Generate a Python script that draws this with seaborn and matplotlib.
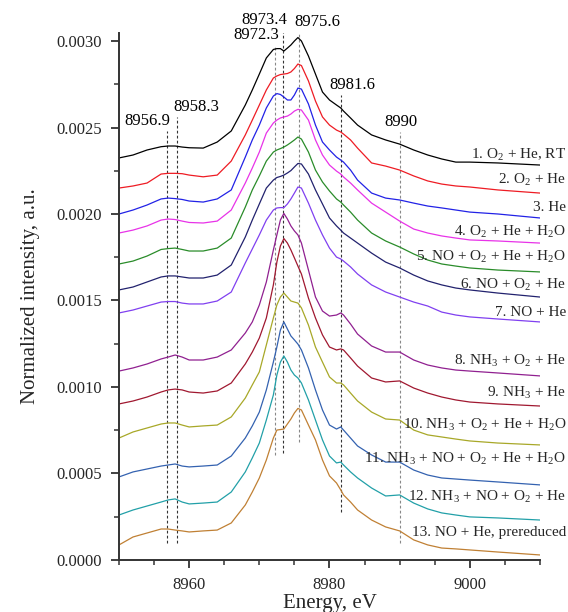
import matplotlib
matplotlib.use("Agg")
import matplotlib.pyplot as plt
from matplotlib.ticker import MultipleLocator, FormatStrFormatter
import numpy as np
import pandas as pd
import seaborn as sns

sns.set_theme(style="ticks")
plt.rcParams["font.family"] = ["Liberation Serif", "DejaVu Serif"]
plt.rcParams["mathtext.fontset"] = "custom"
plt.rcParams["mathtext.rm"] = "Liberation Serif"

# Photon energy grid, eV
energy = [8950, 8952, 8954, 8956, 8957, 8958, 8959, 8960, 8962, 8964, 8966,
          8968, 8969, 8970, 8971, 8972, 8972.5, 8973, 8973.5, 8974, 8974.5,
          8975, 8975.5, 8976, 8977, 8978, 8979, 8980, 8981, 8981.6, 8982,
          8983, 8984, 8986, 8988, 8990, 8992, 8994, 8996, 8998, 9000, 9004, 9010]

# Normalized intensity of each (offset) spectrum, in units of 1e-4
i01 = [23.24, 23.41, 23.70, 23.89, 23.93, 23.93, 23.87, 23.83, 23.81, 24.16, 24.80,
       26.30, 27.17, 28.09, 29.02, 29.51, 29.56, 29.56, 29.42, 29.59, 29.77,
       30.00, 30.20, 30.00, 29.13, 28.09, 27.05, 26.59, 26.30, 26.13, 25.95,
       25.55, 25.14, 24.57, 24.28, 24.04, 23.70, 23.41, 23.18, 23.00, 23.00, 22.95, 22.83]
i02 = [21.50, 21.62, 21.79, 22.31, 22.35, 22.35, 22.33, 22.25, 22.15, 22.25, 23.06,
       24.57, 25.43, 26.30, 27.17, 27.86, 27.98, 28.06, 28.09, 28.12, 28.21,
       28.41, 28.67, 28.58, 27.69, 26.53, 25.61, 25.14, 24.85, 24.74, 24.62,
       24.28, 23.81, 22.95, 22.77, 22.54, 22.20, 21.91, 21.73, 21.62, 21.56, 21.39, 21.21]
i03 = [20.00, 20.23, 20.52, 20.87, 20.92, 20.89, 20.84, 20.75, 20.69, 20.87, 21.39,
       23.29, 24.28, 25.14, 26.13, 26.82, 26.96, 26.91, 26.76, 26.59, 26.59,
       26.88, 27.28, 27.22, 26.36, 25.14, 24.16, 23.70, 23.29, 23.12, 23.00,
       22.54, 21.96, 21.21, 20.92, 20.81, 20.63, 20.46, 20.35, 20.23, 20.11, 20.00, 19.77]
i04 = [18.90, 19.07, 19.31, 19.65, 19.71, 19.68, 19.59, 19.51, 19.48, 19.59, 20.23,
       21.79, 22.66, 23.58, 24.68, 25.26, 25.43, 25.55, 25.61, 25.66, 25.78,
       25.95, 26.05, 26.01, 25.43, 24.28, 23.41, 22.83, 22.48, 22.31, 22.14,
       21.79, 21.39, 20.63, 20.11, 19.59, 19.13, 18.90, 18.73, 18.61, 18.50, 18.44, 18.32]
i05 = [17.11, 17.28, 17.57, 17.95, 18.00, 18.03, 17.95, 17.86, 17.86, 18.03, 18.61,
       20.40, 21.39, 22.20, 23.06, 23.58, 23.70, 23.78, 23.87, 23.99, 24.13,
       24.28, 24.45, 24.33, 23.58, 22.54, 21.85, 21.33, 20.87, 20.69, 20.52,
       20.11, 19.65, 18.90, 18.44, 18.09, 17.69, 17.34, 17.11, 16.99, 16.88, 16.76, 16.65]
i06 = [15.61, 15.78, 16.07, 16.36, 16.42, 16.42, 16.36, 16.30, 16.30, 16.47, 17.05,
       18.67, 19.65, 20.58, 21.50, 21.96, 22.11, 22.17, 22.25, 22.37, 22.51,
       22.72, 22.92, 22.89, 22.31, 21.39, 20.58, 19.77, 19.31, 19.07, 18.90,
       18.61, 18.32, 17.74, 17.22, 16.88, 16.47, 16.13, 15.90, 15.72, 15.61, 15.43, 15.20]
i07 = [14.28, 14.45, 14.68, 14.91, 14.94, 14.94, 14.85, 14.80, 14.80, 14.97, 15.49,
       17.17, 17.98, 18.79, 19.65, 20.23, 20.35, 20.37, 20.37, 20.58, 20.87,
       21.21, 21.56, 21.50, 20.63, 19.65, 18.79, 18.03, 17.51, 17.40, 17.28,
       16.94, 16.53, 15.90, 15.49, 15.20, 14.91, 14.68, 14.33, 14.16, 14.05, 13.93, 13.76]
i08 = [10.92, 11.10, 11.33, 11.62, 11.73, 11.85, 11.73, 11.56, 11.56, 11.73, 12.14,
       13.12, 13.76, 14.74, 16.07, 17.92, 18.79, 19.65, 20.03, 19.71, 19.31,
       19.02, 18.79, 18.32, 16.76, 15.20, 14.39, 14.10, 14.16, 14.28, 14.16,
       13.64, 13.06, 12.37, 12.02, 12.02, 11.56, 11.27, 11.10, 10.98, 10.92, 10.81, 10.64]
i09 = [9.02, 9.19, 9.42, 9.71, 9.83, 9.88, 9.83, 9.71, 9.65, 9.77, 10.23,
       11.33, 12.02, 12.83, 13.99, 15.90, 17.22, 18.15, 18.58, 18.32, 17.92,
       17.46, 16.99, 16.53, 15.14, 13.99, 13.01, 12.31, 12.14, 12.20, 12.14,
       11.68, 11.21, 10.52, 10.29, 10.35, 9.94, 9.65, 9.42, 9.25, 9.13, 9.02, 8.90]
i10 = [7.05, 7.40, 7.63, 7.86, 7.92, 7.92, 7.80, 7.69, 7.75, 7.80, 8.27,
       9.36, 10.12, 10.87, 12.43, 13.99, 14.74, 15.20, 15.43, 15.20, 14.97,
       14.91, 14.85, 14.57, 13.58, 12.31, 11.44, 10.58, 10.23, 10.23, 10.12,
       9.65, 9.19, 8.55, 8.15, 8.09, 7.51, 7.23, 7.11, 6.99, 6.88, 6.76, 6.65]
i11 = [4.80, 5.09, 5.26, 5.43, 5.49, 5.55, 5.43, 5.38, 5.43, 5.49, 6.01,
       7.05, 7.75, 8.55, 9.83, 11.44, 12.31, 13.29, 13.76, 13.35, 12.95,
       12.72, 12.48, 12.14, 11.10, 9.83, 8.67, 7.80, 7.57, 7.69, 7.51,
       7.05, 6.59, 6.07, 5.66, 5.66, 5.20, 4.91, 4.74, 4.68, 4.62, 4.51, 4.34]
i12 = [2.60, 2.89, 3.12, 3.35, 3.47, 3.53, 3.35, 3.24, 3.29, 3.35, 3.93,
       5.09, 5.90, 6.76, 8.09, 9.54, 10.69, 11.44, 11.79, 11.44, 10.98,
       10.69, 10.52, 10.23, 9.25, 8.09, 6.94, 6.01, 5.61, 5.66, 5.49,
       5.09, 4.74, 4.16, 3.70, 3.76, 3.29, 2.95, 2.72, 2.60, 2.49, 2.43, 2.31]
i13 = [0.87, 1.33, 1.56, 1.79, 1.79, 1.73, 1.68, 1.62, 1.68, 1.73, 2.14,
       3.18, 3.93, 4.74, 5.78, 7.05, 7.51, 7.54, 7.57, 7.86, 8.15,
       8.50, 8.76, 8.67, 7.80, 6.94, 5.78, 4.86, 4.45, 4.05, 3.76,
       3.35, 2.89, 2.31, 1.91, 1.68, 1.16, 0.87, 0.69, 0.64, 0.58, 0.46, 0.29]

spectra = [i01, i02, i03, i04, i05, i06, i07, i08, i09, i10, i11, i12, i13]

conditions = [
    "1. O$_\\mathregular{2}$ + He, RT",
    "2. O$_\\mathregular{2}$ + He",
    "3. He",
    "4. O$_\\mathregular{2}$ + He + H$_\\mathregular{2}$O",
    "5. NO + O$_\\mathregular{2}$ + He + H$_\\mathregular{2}$O",
    "6. NO + O$_\\mathregular{2}$ + He",
    "7. NO + He",
    "8. NH$_\\mathregular{3}$ + O$_\\mathregular{2}$ + He",
    "9. NH$_\\mathregular{3}$ + He",
    "10. NH$_\\mathregular{3}$ + O$_\\mathregular{2}$ + He + H$_\\mathregular{2}$O",
    "11. NH$_\\mathregular{3}$ + NO + O$_\\mathregular{2}$ + He + H$_\\mathregular{2}$O",
    "12. NH$_\\mathregular{3}$ + NO + O$_\\mathregular{2}$ + He",
    "13. NO + He, prereduced",
]

colors = ["#000000", "#ee1c24", "#2222e6", "#e833e8", "#2a8c2a", "#22226e",
          "#8040f0", "#902090", "#a01830", "#a8a828", "#3462b0", "#22a0a8", "#c08034"]

# Vertical label height of each condition (units of 1e-4)
label_y = [23.41, 21.96, 20.40, 18.96, 17.51, 15.90, 14.28, 11.50, 9.65, 7.80, 5.84, 3.64, 1.56]

# Marked energies and the span of each marker line (units of 1e-4)
marker_energy = [8956.9, 8958.3, 8972.3, 8973.4, 8975.6, 8981.6, 8990]
marker_top = [24.80, 25.61, 29.77, 30.63, 30.52, 26.88, 24.74]
marker_bottom = [0.98, 0.98, 6.07, 6.18, 6.82, 2.77, 0.98]
marker_color = ["#333333", "#333333", "#888888", "#333333", "#888888", "#333333", "#888888"]
marker_text_shift = [-2.9, 2.7, -2.7, -2.7, 2.7, 1.7, 0.2]

scale = 1e-4
rows = []
for name, vals in zip(conditions, spectra):
    for e, v in zip(energy, vals):
        rows.append({"energy": e, "intensity": v * scale, "spectrum": name})
df = pd.DataFrame(rows)

fig = plt.figure(figsize=(5.68, 6.12), dpi=100)
ax = fig.add_axes([0.2095, 0.085, 0.7412, 0.861])

sns.lineplot(data=df, x="energy", y="intensity", hue="spectrum",
             hue_order=conditions, palette=colors, sort=False,
             estimator=None, legend=False, linewidth=0.9, ax=ax)

for e, top, bot, c, dx in zip(marker_energy, marker_top, marker_bottom,
                              marker_color, marker_text_shift):
    ax.vlines(e, bot * scale, top * scale, colors=c, linestyles=(0, (2.5, 2)),
              linewidth=0.8, zorder=1)
    ax.text(e + dx, top * scale + 0.000012, f"{e:g}", ha="center", va="bottom",
            fontsize=12, color="black")

trans = ax.get_yaxis_transform()
for name, y in zip(conditions, label_y):
    ax.text(1.062, y * scale, name, transform=trans, ha="right", va="center",
            fontsize=11, clip_on=False)

ax.set_xlim(8950, 9010)
ax.set_ylim(0, 0.003046)
ax.xaxis.set_major_locator(MultipleLocator(20))
ax.xaxis.set_minor_locator(MultipleLocator(5))
ax.yaxis.set_major_locator(MultipleLocator(0.0005))
ax.yaxis.set_minor_locator(MultipleLocator(0.00025))
ax.yaxis.set_major_formatter(FormatStrFormatter("%.4f"))

for side in ("top", "right"):
    ax.spines[side].set_visible(False)
for side in ("left", "bottom"):
    ax.spines[side].set_linewidth(1.4)
    ax.spines[side].set_color("#333333")

ax.tick_params(which="major", direction="out", length=6, width=1.3,
               color="#333333", labelsize=12, pad=6)
ax.tick_params(which="minor", direction="out", length=3.5, width=1.1,
               color="#333333")

ax.set_xlabel("Energy, eV", fontsize=15, labelpad=1)
ax.set_ylabel("Normalized intensity, a.u.", fontsize=15, labelpad=12)
ax.set_facecolor("white")
fig.patch.set_facecolor("white")

fig.savefig("out.png", dpi=100)
